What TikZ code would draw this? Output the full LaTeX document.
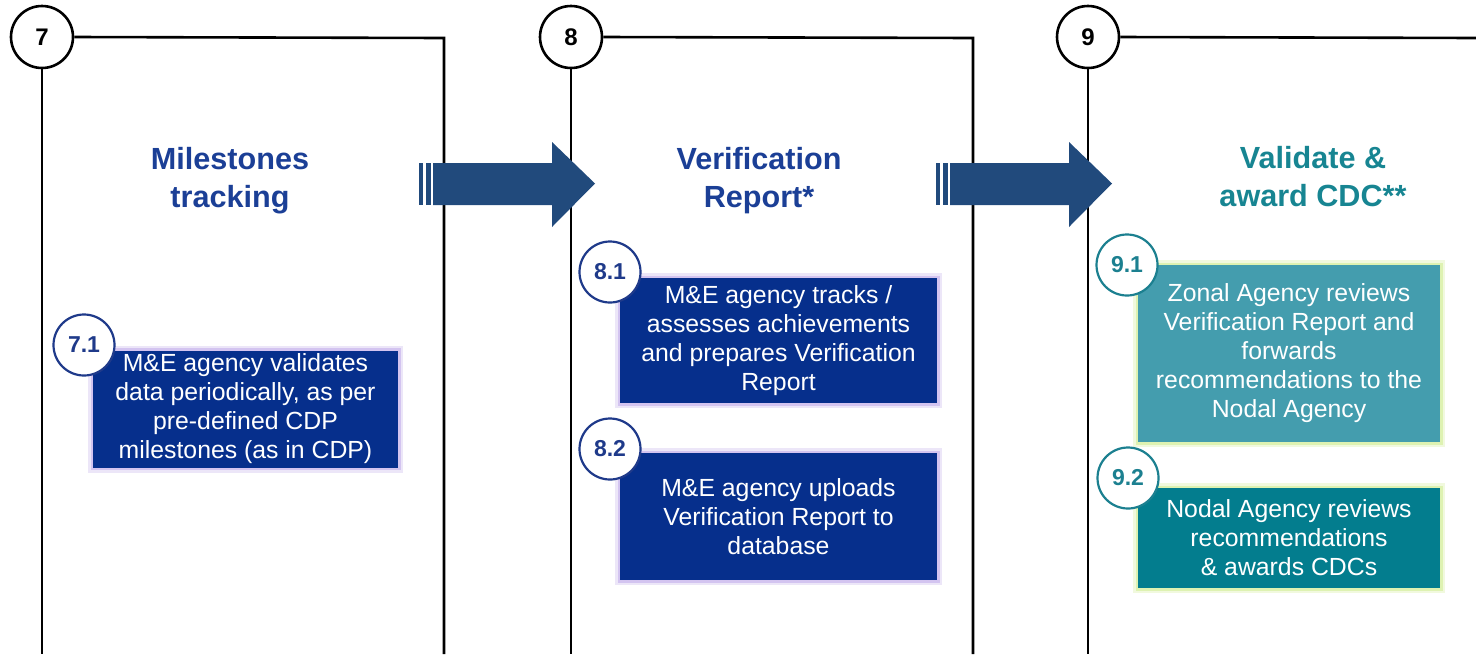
\documentclass[tikz,border=0pt]{standalone}
\usepackage{fontspec}
\setmainfont{Liberation Sans}
\definecolor{navy}{HTML}{062F8C}
\definecolor{titleblue}{HTML}{1B3F96}
\definecolor{arrowblue}{HTML}{214A7C}
\definecolor{tealA}{HTML}{449DAE}
\definecolor{tealB}{HTML}{037D8E}
\definecolor{tealtitle}{HTML}{178592}
\definecolor{tealring}{HTML}{1C8090}
\definecolor{navyring}{HTML}{1F3A8A}
\definecolor{lav}{HTML}{C9B6EC}
\definecolor{lime}{HTML}{D6EFA0}
\tikzset{
  panel/.style={line width=1.3pt, draw=black},
  bignum/.style={circle, draw=black, line width=1.3pt, fill=white, minimum size=31pt, inner sep=0pt, font=\fontsize{12}{14}\selectfont\bfseries},
  subnum/.style={circle, draw=#1, line width=1.1pt, fill=white, minimum size=30.5pt, inner sep=0pt, text=#1, font=\fontsize{11.5}{13}\selectfont\bfseries},
  titletext/.style={align=center, text=#1, font=\fontsize{15.3}{19}\selectfont\bfseries},
  stepbox/.style={rectangle, fill=#1, inner sep=0pt, align=center, text=white, font=\fontsize{12.4}{14.5}\selectfont},
  glowlav/.style={preaction={draw=lav, line width=5pt, draw opacity=0.35}, preaction={draw=lav, line width=2.5pt, draw opacity=0.7}},
  glowlime/.style={preaction={draw=lime, line width=5pt, draw opacity=0.35}, preaction={draw=lime, line width=2.5pt, draw opacity=0.7}},
  blockarrow/.style={fill=arrowblue},
}
\begin{document}
\begin{tikzpicture}[x=0.5pt,y=-0.5pt]
\useasboundingbox (0,0) rectangle (1476,654);
% panel corners
\coordinate (p7tr) at (444,38);
\coordinate (p7br) at (444,654);
\coordinate (p7bl) at (42,654);
\coordinate (p8tr) at (973,38);
\coordinate (p8br) at (973,654);
\coordinate (p8bl) at (571,654);
\coordinate (p9tr) at (1476,38);
\coordinate (p9bl) at (1088,654);
% big numbered circles
\node[bignum] (c7) at (42,37) {7};
\node[bignum] (c8) at (571,37) {8};
\node[bignum] (c9) at (1088,37) {9};
\draw[panel] (c7.south) -- (p7bl);
\draw[panel] (c7.east) -- (p7tr) -- (p7br);
\draw[panel] (c8.south) -- (p8bl);
\draw[panel] (c8.east) -- (p8tr) -- (p8br);
\draw[panel] (c9.south) -- (p9bl);
\draw[panel] (c9.east) -- (p9tr);
% block arrows
\foreach \dx in {0,517}{
  \begin{scope}[xshift=\dx*0.5pt]
  \fill[blockarrow] (419,163) rectangle (423,205);
  \fill[blockarrow] (426,163) rectangle (431,205);
  \fill[blockarrow] (433,163) -- (552,163) -- (552,142) -- (595,183.5) -- (552,227) -- (552,205) -- (433,205) -- cycle;
  \end{scope}
}
% titles
\node[titletext=titleblue] (t7) at (230,181) {Milestones\\tracking};
\node[titletext=titleblue] (t8) at (759,181) {Verification\\Report*};
\node[titletext=tealtitle] (t9) at (1313,177) {Validate \&\\award CDC**};
% boxes (size in pt = px/2)
\node[stepbox=navy, glowlav, minimum width=152.5pt, minimum height=58.5pt] (b71) at (245.5,409) {M\&E agency validates\\data periodically, as per\\pre-defined CDP\\milestones (as in CDP)};
\node[stepbox=navy, glowlav, minimum width=158.5pt, minimum height=62.5pt] (b81) at (778.5,340.5) {M\&E agency tracks /\\assesses achievements\\and prepares Verification\\Report};
\node[stepbox=navy, glowlav, minimum width=158.5pt, minimum height=63.5pt] (b82) at (778.5,516.5) {M\&E agency uploads\\Verification Report to\\database};
\node[stepbox=tealA, glowlime, minimum width=151pt, minimum height=88.5pt] (b91) at (1289,353.5) {Zonal Agency reviews\\Verification Report and\\forwards\\recommendations to the\\Nodal Agency};
\node[stepbox=tealB, glowlime, minimum width=151pt, minimum height=50pt] (b92) at (1289,538) {Nodal Agency reviews\\recommendations\\\& awards CDCs};
% sub circles
\node[subnum=navyring] (s71) at (84,345) {7.1};
\node[subnum=navyring] (s81) at (610,272) {8.1};
\node[subnum=navyring] (s82) at (610,449) {8.2};
\node[subnum=tealring] (s91) at (1127,265) {9.1};
\node[subnum=tealring] (s92) at (1128,478) {9.2};
\end{tikzpicture}
\end{document}
